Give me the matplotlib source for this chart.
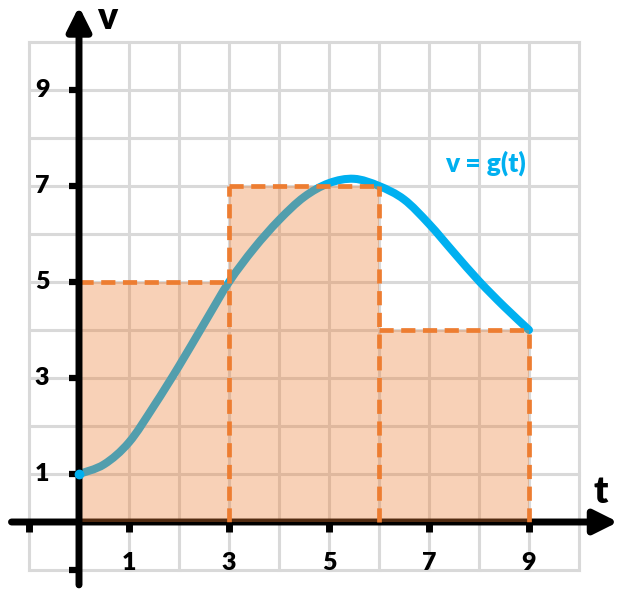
import matplotlib.pyplot as plt
from matplotlib.path import Path
from matplotlib.patches import PathPatch
import numpy as np

# curve v = g(t), every 0.5
t_values = [0, 0.5, 1, 1.5, 2, 2.5, 3, 3.5, 4, 4.5, 5, 5.5, 6, 6.5, 7, 7.5, 8, 8.5, 9]
v_values = [1.0, 1.2, 1.66, 2.42, 3.25, 4.13, 5.0, 5.7, 6.29, 6.77, 7.06, 7.15,
            7.0, 6.72, 6.21, 5.61, 5.02, 4.49, 4.0]

# rectangles: left edge, right edge, height
rect_left = [0, 3, 6]
rect_right = [3, 6, 9]
rect_height = [5, 7, 4]

tick_positions = [1, 3, 5, 7, 9]
minor_marks = [-1, 1, 3, 5, 7, 9]

blue = '#00B0F0'
orange = '#ED7D31'
grid_color = '#D9D9D9'
label_font = 'Lato'

fig = plt.figure(figsize=(6.22, 5.95), dpi=100)
ax = fig.add_axes([0, 0, 1, 1])
ax.set_xlim(-79 / 50, 543 / 50)
ax.set_ylim(-73 / 48, 522 / 48)
ax.axis('off')

# grid
for gx in range(-1, 11):
    ax.plot([gx, gx], [-1, 10], color=grid_color, lw=2.2, zorder=1, solid_capstyle='projecting')
for gy in range(-1, 11):
    ax.plot([-1, 10], [gy, gy], color=grid_color, lw=2.2, zorder=1, solid_capstyle='projecting')

# x axis (under the fill)
ax.annotate('', xy=(10.78, 0), xytext=(-1.35, 0),
            arrowprops=dict(arrowstyle='-|>', lw=5, color='black', mutation_scale=36,
                            shrinkA=0, shrinkB=0), zorder=2)

# smooth curve through the read points (Catmull-Rom as cubic Bezier)
pts = np.column_stack([t_values, v_values])
padded = np.vstack([pts[0], pts, pts[-1]])
verts = [pts[0]]
codes = [Path.MOVETO]
for i in range(len(pts) - 1):
    p0, p1, p2, p3 = padded[i], padded[i + 1], padded[i + 2], padded[i + 3]
    verts += [p1 + (p2 - p0) / 6, p2 - (p3 - p1) / 6, p2]
    codes += [Path.CURVE4] * 3
ax.add_patch(PathPatch(Path(verts, codes), fill=False, edgecolor=blue, lw=5.8,
                       capstyle='round', joinstyle='round', zorder=3))

# rectangles
dash = (0, (3.0, 1.6))
for x0, x1, h in zip(rect_left, rect_right, rect_height):
    ax.fill_between([x0, x1], 0, h, color=orange, alpha=0.35, lw=0, zorder=4)
    ax.plot([x0, x1], [h, h], color=orange, lw=3.4, ls=dash, zorder=5)

# vertical dashed edges: one per boundary, up to the taller neighbour
edges = sorted(set(rect_left + rect_right))
for e in edges:
    tall = max(h for x0, x1, h in zip(rect_left, rect_right, rect_height) if x0 <= e <= x1)
    ax.plot([e, e], [0, tall], color=orange, lw=3.4, ls=dash, zorder=5)

# y axis (over the fill)
ax.annotate('', xy=(0, 10.74), xytext=(0, -1.31),
            arrowprops=dict(arrowstyle='-|>', lw=5, color='black', mutation_scale=36,
                            shrinkA=0, shrinkB=0), zorder=6)
ax.plot(t_values[0], v_values[0], 'o', color=blue, ms=6, zorder=7)

# tick marks
for m in minor_marks:
    ax.plot([m, m], [0, -0.2], color='black', lw=5, zorder=6, solid_capstyle='butt')
    ax.plot([-0.2, 0], [m, m], color='black', lw=4.5, zorder=6, solid_capstyle='butt')

# tick labels
for p in tick_positions:
    ax.text(p, -0.85, str(p), ha='center', va='center', fontsize=18, fontweight='heavy',
            family=label_font, zorder=8)
    ax.text(-0.74, p, str(p), ha='center', va='center', fontsize=18, fontweight='heavy',
            family=label_font, zorder=8)

# axis names
ax.text(0.56, 10.5, 'v', ha='center', va='center', fontsize=27, fontweight='heavy',
        family=label_font)
ax.text(10.44, 0.62, 't', ha='center', va='center', fontsize=27, fontweight='heavy',
        family=label_font)
ax.text(8.12, 7.48, 'v = g(t)', ha='center', va='center', fontsize=19, fontweight='heavy',
        family=label_font, color=blue)

fig.savefig('out.png', dpi=100)
